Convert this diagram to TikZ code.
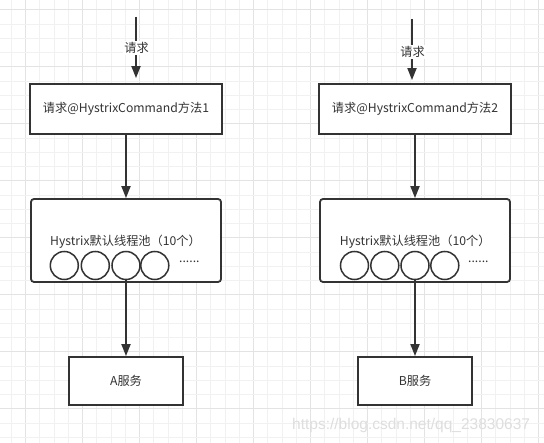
\documentclass[tikz,border=0pt]{standalone}
\usepackage{fontspec}
\setmainfont{Noto Sans CJK SC}
\newfontfamily\wmfont{Liberation Sans}
\usetikzlibrary{arrows.meta}
\definecolor{ink}{HTML}{333333}
\definecolor{gridminor}{HTML}{F1F1F1}
\definecolor{gridmajor}{HTML}{E3E3E3}
\tikzset{
  txt/.style={text=ink, font=\fontsize{12.2}{14}\selectfont, inner sep=0pt},
  box/.style={draw=ink, line width=1.8pt, fill=white, txt, inner sep=0pt},
  pool/.style={box, rounded corners=3pt},
  flow/.style={draw=ink, line width=1.8pt, -{Triangle[length=12pt,width=9pt]}},
  thread/.style={circle, draw=ink, line width=1.5pt, minimum size=28pt, inner sep=0pt},
  lbl/.style={txt, fill=white, inner sep=1.5pt},
}
\begin{document}
\begin{tikzpicture}[x=1pt,y=-1pt]
\useasboundingbox (0,0) rectangle (544,443);
\fill[white] (0,0) rectangle (544,443);
% grid
\foreach \i in {0,...,39} {
  \pgfmathsetmacro\xx{-2.8+\i*14.25}
  \pgfmathtruncatemacro\mm{mod(\i,4)}
  \ifnum\mm=2
    \draw[gridmajor, line width=1pt] (\xx,0) -- (\xx,443);
  \else
    \draw[gridminor, line width=1pt] (\xx,0) -- (\xx,443);
  \fi
}
\foreach \j in {0,...,32} {
  \pgfmathsetmacro\yy{-4.25+\j*14.25}
  \pgfmathtruncatemacro\mm{mod(\j,4)}
  \ifnum\mm=1
    \draw[gridmajor, line width=1pt] (0,\yy) -- (544,\yy);
  \else
    \draw[gridminor, line width=1pt] (0,\yy) -- (544,\yy);
  \fi
}

% ---------- left column ----------
\coordinate (inL) at (136,17);
\node[box, minimum width=192pt, minimum height=50pt] (b1L) at (126,109) {请求@HystrixCommand方法1};
\node[pool, minimum width=190pt, minimum height=83pt] (b2L) at (126,240.5) {};
\node[txt, anchor=west] (tL) at (50,241.7) {Hystrix默认线程池（10个）};
\node[thread] (c1L) at (64.3,265.5) {};
\node[thread] (c2L) at (95.3,265.5) {};
\node[thread] (c3L) at (126,265.5) {};
\node[thread] (c4L) at (154.8,265.5) {};
\node[txt, anchor=west] (dL) at (179,262) {......};
\node[box, minimum width=114pt, minimum height=48pt] (b3L) at (126,381) {A服务};

\draw[flow, shorten >=5pt] (inL) -- (inL |- b1L.north);
\node[lbl] (qL) at (136.5,48.3) {请求};
\draw[flow] (b1L.south) -- (b2L.north);
\draw[flow] (c3L.south) -- (c3L.south |- b3L.north);

% ---------- right column ----------
\coordinate (inR) at (412,19);
\node[box, minimum width=192pt, minimum height=50pt] (b1R) at (415,109) {请求@HystrixCommand方法2};
\node[pool, minimum width=190pt, minimum height=83pt] (b2R) at (415,240.5) {};
\node[txt, anchor=west] (tR) at (339.7,241.7) {Hystrix默认线程池（10个）};
\node[thread] (c1R) at (354.5,265.5) {};
\node[thread] (c2R) at (384.8,265.5) {};
\node[thread] (c3R) at (415,265.5) {};
\node[thread] (c4R) at (444.8,265.5) {};
\node[txt, anchor=west] (dR) at (468,262) {......};
\node[box, minimum width=114pt, minimum height=48pt] (b3R) at (415,381) {B服务};

\draw[flow, shorten >=3pt] (inR) -- (inR |- b1R.north);
\node[lbl] (qR) at (412.5,51.7) {请求};
\draw[flow] (b1R.south) -- (b2R.north);
\draw[flow] (c3R.south) -- (c3R.south |- b3R.north);

% watermark
\node[text=black!13, font=\wmfont\fontsize{15.5}{17}\selectfont, anchor=west, inner sep=0pt] (wm) at (292,425) {https://blog.csdn.net/qq\_23830637};
\end{tikzpicture}
\end{document}
